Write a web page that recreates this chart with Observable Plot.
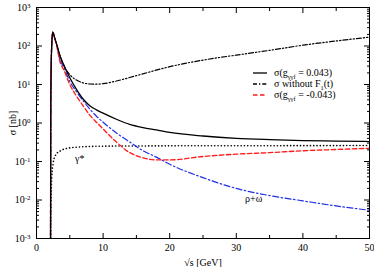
<!DOCTYPE html>
<html>
<head>
<meta charset="utf-8">
<script src="https://cdn.jsdelivr.net/npm/d3@7"></script>
<script src="https://cdn.jsdelivr.net/npm/@observablehq/plot@0.6"></script>
<style>body{margin:0;background:white;} svg text{font-family:"Liberation Serif","DejaVu Serif",serif;}</style>
</head>
<body>
<div id="chart"></div>
<script>
// sqrt(s) [GeV] grids
const xMain = [2.1, 2.15, 2.3, 2.45, 2.7, 3.0, 3.6, 4, 5, 6, 7, 8, 9, 10, 12, 14, 16, 18, 20, 25, 30, 35, 40, 45, 50];
// sigma(g = 0.043) [nb]
const sigmaPos = [1e-4, 5, 120, 230, 170, 115, 51, 35, 15, 7.5, 4.2, 2.8, 2.2, 1.8, 1.25, 0.92, 0.76, 0.66, 0.57, 0.46, 0.40, 0.37, 0.35, 0.34, 0.33];
// sigma(g = -0.043)
const sigmaNeg = [1e-4, 5, 120, 230, 165, 105, 35, 26, 10, 5, 2.8, 1.6, 1.05, 0.7, 0.32, 0.17, 0.125, 0.11, 0.11, 0.135, 0.155, 0.17, 0.19, 0.205, 0.22];
// rho + omega
const sigmaRho = [1e-4, 5, 120, 230, 168, 110, 41, 30, 12, 6.5, 3.8, 2.3, 1.5, 1.05, 0.55, 0.32, 0.19, 0.13, 0.085, 0.038, 0.02, 0.013, 0.0095, 0.007, 0.0054];
// sigma without F1(t)
const xNoF = [2.1, 2.15, 2.3, 2.45, 2.7, 3.0, 3.6, 4.4, 5, 6, 7, 8, 9, 10, 12, 15, 20, 25, 30, 35, 40, 45, 50];
const sigmaNoF = [1e-4, 5, 120, 230, 170, 115, 52, 25, 18, 13, 11, 10.3, 10.2, 10.5, 12.3, 17, 29, 43, 58, 77, 105, 135, 170];
// gamma*
const xGam = [2.1, 2.15, 2.3, 2.5, 2.85, 3.6, 4.6, 6, 8, 10, 20, 30, 40, 50];
const sigmaGam = [1e-4, 0.005, 0.04, 0.09, 0.145, 0.19, 0.22, 0.235, 0.245, 0.25, 0.255, 0.257, 0.258, 0.26];

const xTicksMajor = [0, 10, 20, 30, 40, 50];
const xTicksMinor = [5, 15, 25, 35, 45];
const yTicksMajor = [1e-3, 1e-2, 1e-1, 1e0, 1e1, 1e2, 1e3];
const yTicksMinor = [];
for (let e = -3; e < 3; e++) for (let m = 2; m <= 9; m++) yTicksMinor.push(m * Math.pow(10, e));

const annX = [6.5, 32.6];
const annY = [0.12, 0.011];
const annText = ["γ*", "ρ+ω"];

const series = (xs, ys, key) => xs.map((x, i) => ({x, y: ys[i], key}));
const dPos = series(xMain, sigmaPos, "pos");
const dNeg = series(xMain, sigmaNeg, "neg");
const dRho = series(xMain, sigmaRho, "rho");
const dNoF = series(xNoF, sigmaNoF, "nof");
const dGam = series(xGam, sigmaGam, "gam");
const ann = annText.map((t, i) => ({x: annX[i], y: annY[i], t}));

const FONT = "'Liberation Serif', 'DejaVu Serif', serif";

const plot = Plot.plot({
  width: 374, height: 267,
  marginLeft: 36, marginRight: 5, marginTop: 7, marginBottom: 29,
  style: {fontFamily: FONT, fontSize: "10px", background: "white", color: "black"},
  x: {domain: [0, 50]},
  y: {type: "log", domain: [1e-3, 1e3]},
  marks: [
    Plot.line(dGam, {x: "x", y: "y", stroke: "black", strokeWidth: 1.6, strokeDasharray: "0.1,3.2", strokeLinecap: "round", curve: "monotone-x", clip: true}),
    Plot.line(dNoF, {x: "x", y: "y", stroke: "black", strokeWidth: 1.2, strokeDasharray: "5,2,1.3,2,1.3,2", curve: "monotone-x", clip: true}),
    Plot.line(dRho, {x: "x", y: "y", stroke: "#1f2fe8", strokeWidth: 1.2, strokeDasharray: "6,2.5,1.5,2.5", curve: "monotone-x", clip: true}),
    Plot.line(dNeg, {x: "x", y: "y", stroke: "#ff1a1a", strokeWidth: 1.3, strokeDasharray: "4.5,2.5", curve: "monotone-x", clip: true}),
    Plot.line(dPos, {x: "x", y: "y", stroke: "black", strokeWidth: 1.3, curve: "monotone-x", clip: true}),
    Plot.text(ann, {x: "x", y: "y", text: "t", fontSize: 10, fill: "black"}),
    Plot.frame({stroke: "black", strokeWidth: 1}),
    Plot.axisX({ticks: xTicksMajor, tickSize: -5, tickPadding: 10, tickFormat: d => String(d), label: "√s [GeV]", labelAnchor: "center", labelArrow: false, labelOffset: 27}),
    Plot.axisX({ticks: xTicksMinor, tickSize: -3, tickFormat: () => "", label: null}),
    Plot.axisX({anchor: "top", ticks: xTicksMajor, tickSize: -5, tickFormat: () => "", label: null}),
    Plot.axisX({anchor: "top", ticks: xTicksMinor, tickSize: -3, tickFormat: () => "", label: null}),
    Plot.axisY({ticks: yTicksMajor, tickSize: -6, tickPadding: 12, tickFormat: d => "10^" + Math.round(Math.log10(d)), label: "σ [nb]", labelAnchor: "center", labelArrow: false, labelOffset: 28}),
    Plot.axisY({ticks: yTicksMinor, tickSize: -3, tickFormat: () => "", label: null}),
    Plot.axisY({anchor: "right", ticks: yTicksMajor, tickSize: -6, tickFormat: () => "", label: null}),
    Plot.axisY({anchor: "right", ticks: yTicksMinor, tickSize: -3, tickFormat: () => "", label: null})
  ]
});
document.getElementById("chart").appendChild(plot);

// serif text everywhere; superscript exponents on y tick labels
d3.select(plot).attr("font-family", FONT);
d3.select(plot).selectAll("text").each(function () {
  const t = d3.select(this);
  t.style("font-family", FONT).style("font-size", "10px");
  const s = this.textContent;
  if (/^10\^-?\d+$/.test(s)) {
    const [b, e] = s.split("^");
    t.text(null);
    t.append("tspan").text(b);
    t.append("tspan").attr("dy", "-0.45em").style("font-size", "7px").text(e);
  }
});

// legend
const legendRows = [
  {stroke: "black", dash: null, parts: [["σ(g", 0], ["γγf", 1], [" = 0.043)", 0]]},
  {stroke: "black", dash: "4,2,1.3,2", parts: [["σ without F", 0], ["1", 1], ["(t)", 0]]},
  {stroke: "#ff1a1a", dash: "4.5,2.5", parts: [["σ(g", 0], ["γγf", 1], [" = -0.043)", 0]]}
];
const lg = d3.select(plot).append("g").attr("text-anchor", "start");
legendRows.forEach((r, i) => {
  const y = 73 + i * 11;
  lg.append("line").attr("x1", 253).attr("x2", 267).attr("y1", y).attr("y2", y)
    .attr("stroke", r.stroke).attr("stroke-width", 1.3).attr("stroke-dasharray", r.dash);
  const t = lg.append("text").attr("x", 274).attr("y", y).attr("dy", "0.32em")
    .attr("fill", "black").attr("text-anchor", "start")
    .style("font-family", FONT).style("font-size", "10px");
  let sub = false;
  r.parts.forEach(([s, isSub]) => {
    const sp = t.append("tspan").text(s);
    if (isSub && !sub) { sp.attr("dy", "2.5").style("font-size", "6.5px"); sub = true; }
    else if (!isSub && sub) { sp.attr("dy", "-2.5"); sub = false; }
  });
});
</script>
</body>
</html>
